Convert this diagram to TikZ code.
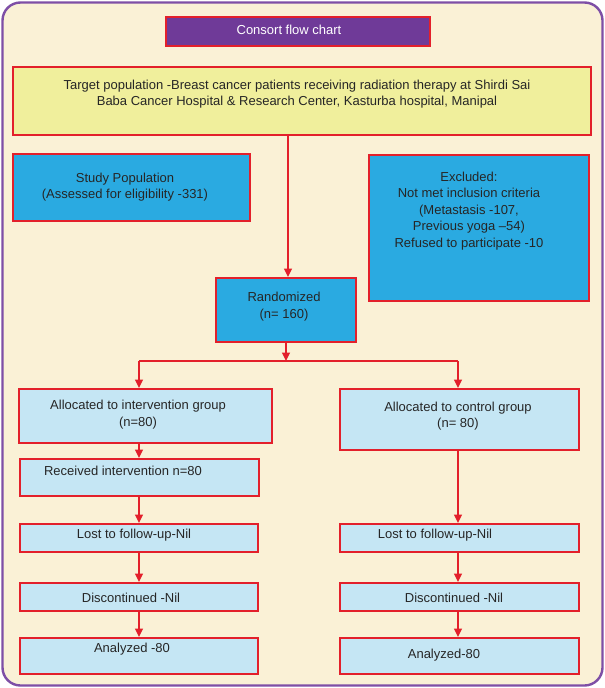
\documentclass[tikz,border=0pt]{standalone}
\usepackage{fontspec}
\setmainfont{Liberation Sans}
\usetikzlibrary{arrows.meta}
\definecolor{bgc}{HTML}{FAF1D6}
\definecolor{frame}{HTML}{7E4FA6}
\definecolor{titlec}{HTML}{6F3A98}
\definecolor{yel}{HTML}{F0EF9C}
\definecolor{blu}{HTML}{2AAAE1}
\definecolor{lblu}{HTML}{C5E6F4}
\definecolor{redc}{HTML}{E3202B}
\definecolor{txtc}{HTML}{262626}
\newcommand{\bx}[6]{\node[#6, anchor=north west, minimum width=#4-#2, minimum height=#5-#3] (#1) at (#2,#3) {};}
\begin{document}
\begin{tikzpicture}[x=1pt,y=-1pt,
  boxbase/.style={draw=redc, line width=1.6pt, inner sep=0pt, rectangle},
  titlebox/.style={boxbase, fill=titlec},
  yelbox/.style={boxbase, fill=yel},
  blubox/.style={boxbase, fill=blu},
  lbbox/.style={boxbase, fill=lblu},
  txt/.style={text=txtc, align=center, inner sep=0pt, font=\fontsize{13}{16.5}\selectfont},
  arr/.style={draw=redc, line width=1.3pt, -{Triangle[width=8pt,length=8.5pt]}},
  ln/.style={draw=redc, line width=1.3pt}]
\useasboundingbox (0,0) rectangle (605,688);
\fill[white] (0,0) rectangle (605,688);
\draw[fill=bgc, draw=frame, line width=2.4pt, rounded corners=18pt] (2.5,2.5) rectangle (602.5,685.5);

% boxes
\bx{title}{165}{16}{429}{45}{titlebox}
\bx{target}{12}{66}{590}{134}{yelbox}
\bx{study}{12}{153}{249}{220}{blubox}
\bx{excl}{368}{154}{588}{300}{blubox}
\bx{rand}{215}{277}{355}{341}{blubox}
\bx{lalloc}{18}{388}{271}{442}{lbbox}
\bx{ralloc}{339}{388}{578}{449}{lbbox}
\bx{recv}{19}{458}{258}{495}{lbbox}
\bx{llost}{19}{523}{257}{551}{lbbox}
\bx{rlost}{339}{523}{578}{551}{lbbox}
\bx{ldisc}{19}{582}{257}{610}{lbbox}
\bx{rdisc}{339}{582}{578}{610}{lbbox}
\bx{lanal}{19}{637}{257}{673}{lbbox}
\bx{ranal}{339}{637}{578}{673}{lbbox}

% texts
\node[txt, text=white] (ttitle) at (289,29.5) {Consort flow chart};
\node[txt] (ttarget) at (297,94) {Target population -Breast cancer patients receiving radiation therapy at Shirdi Sai\\Baba Cancer Hospital \& Research Center, Kasturba hospital, Manipal};
\node[txt] (tstudy) at (125,187) {Study Population\\(Assessed for eligibility -331)};
\node[txt] (texcl) at (469,211) {Excluded:\\Not met inclusion criteria\\(Metastasis -107,\\Previous yoga --54)\\Refused to participate -10};
\node[txt] (trand) at (284,306.5) {Randomized\\(n= 160)};
\node[txt] (tlalloc) at (138,414.5) {Allocated to intervention group\\(n=80)};
\node[txt] (tralloc) at (458,416) {Allocated to control group\\(n= 80)};
\node[txt] (trecv) at (123,471) {Received intervention n=80};
\node[txt] (tllost) at (134,535.5) {Lost to follow-up-Nil};
\node[txt] (trlost) at (435,535.5) {Lost to follow-up-Nil};
\node[txt] (tldisc) at (131,598) {Discontinued -Nil};
\node[txt] (trdisc) at (454,598) {Discontinued -Nil};
\node[txt] (tlanal) at (132,649) {Analyzed -80};
\node[txt] (tranal) at (444,655) {Analyzed-80};

% connectors
\coordinate (split) at (286,361);
\coordinate (lx) at (139,361);
\coordinate (rx) at (458,361);
\coordinate (tx) at (288,134);
\draw[arr] (tx) -- (tx |- rand.north);
\draw[arr] (rand.south -| split) -- (split);
\draw[ln] (lx) -- (rx);
\draw[arr] (lx) -- (lx |- lalloc.north);
\draw[arr] (rx) -- (rx |- ralloc.north);
\draw[arr] (lx |- lalloc.south) -- (lx |- recv.north);
\draw[arr] (lx |- recv.south) -- (lx |- llost.north);
\draw[arr] (lx |- llost.south) -- (lx |- ldisc.north);
\draw[arr] (lx |- ldisc.south) -- (lx |- lanal.north);
\draw[arr] (rx |- ralloc.south) -- (rx |- rlost.north);
\draw[arr] (rx |- rlost.south) -- (rx |- rdisc.north);
\draw[arr] (rx |- rdisc.south) -- (rx |- ranal.north);
\end{tikzpicture}
\end{document}
